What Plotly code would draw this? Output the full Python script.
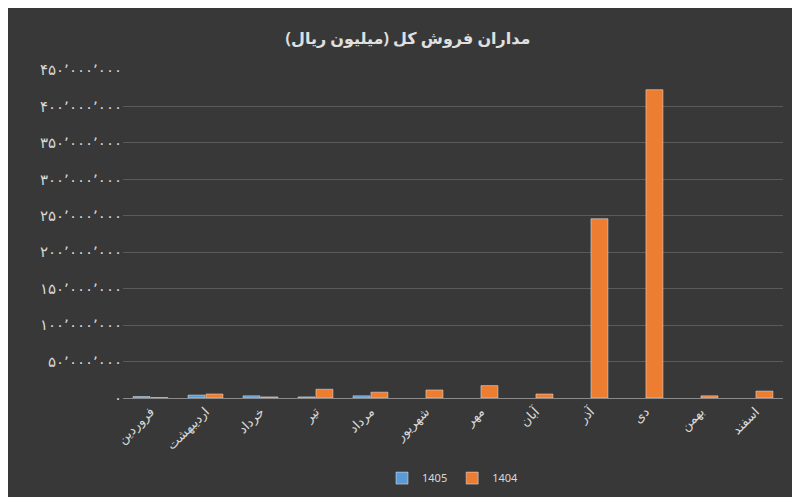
import plotly.graph_objects as go

months = ["فروردین", "اردیبهشت", "خرداد", "تیر", "مرداد", "شهریور",
          "مهر", "آبان", "آذر", "دی", "بهمن", "اسفند"]
sales_1405 = [2000000, 4000000, 3000000, 1500000, 3000000, None, None, None, None, None, None, None]
sales_1404 = [500000, 5500000, 1500000, 12000000, 8000000, 11000000,
              17000000, 5500000, 246000000, 423000000, 3000000, 9500000]
tick_vals = [i * 50000000 for i in range(10)]
tick_text = ["۰", "۵۰٬۰۰۰٬۰۰۰", "۱۰۰٬۰۰۰٬۰۰۰", "۱۵۰٬۰۰۰٬۰۰۰", "۲۰۰٬۰۰۰٬۰۰۰",
             "۲۵۰٬۰۰۰٬۰۰۰", "۳۰۰٬۰۰۰٬۰۰۰", "۳۵۰٬۰۰۰٬۰۰۰", "۴۰۰٬۰۰۰٬۰۰۰", "۴۵۰٬۰۰۰٬۰۰۰"]

fig = go.Figure()
fig.add_bar(x=months, y=sales_1405, name="1405", marker_color="#5b9bd5")
fig.add_bar(x=months, y=sales_1404, name="1404", marker_color="#ed7d31")

fig.update_layout(
    width=800, height=497,
    paper_bgcolor="#383838", plot_bgcolor="#383838",
    font=dict(family="Noto Sans, DejaVu Sans", color="#d9d9d9", size=12),
    title=dict(text="<b>مداران فروش کل (میلیون ریال)</b>", x=0.5, y=0.95,
               font=dict(size=16, color="#e0e0e0")),
    margin=dict(l=115, r=25, t=62, b=100),
    barmode="group", bargap=0.35, bargroupgap=0.05,
    legend=dict(orientation="h", x=0.5, xanchor="center", y=-0.2, yanchor="top",
                traceorder="normal", font=dict(size=11)),
    showlegend=True,
)
fig.update_xaxes(tickangle=-45, showgrid=False, showline=True, linecolor="#8a8a8a",
                 tickfont=dict(size=13))
fig.update_yaxes(range=[0, 450000000], tickvals=tick_vals, ticktext=tick_text,
                 gridcolor="#5a5a5a", zeroline=False, tickfont=dict(size=15))

fig.write_html("out.html")
